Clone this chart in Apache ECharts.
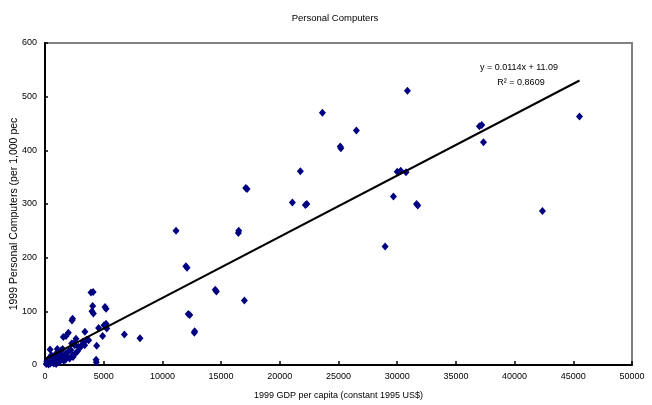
<!DOCTYPE html>
<html>
<head>
<meta charset="utf-8">
<script src="https://cdn.jsdelivr.net/npm/echarts@6/dist/echarts.min.js"></script>
<style>html,body{margin:0;padding:0;background:#fff}#c{width:652px;height:405px}</style>
</head>
<body>
<div id="c"></div>
<script>
// GDP per capita (constant 1995 US$) for each country
var gdpX = [
  30870, 23630, 26520, 37200, 37000, 45530, 37350, 21750, 30000, 30300, 30750, 17210, 17100,
  29680, 21070, 22180, 22300, 31750, 31650, 42370, 28970, 16470, 16500, 11160, 12100, 12000,
  25200, 25150, 14600, 14500, 16980, 12330, 12200, 12720, 12750,
  3920, 4100, 4060, 4000, 4120, 5110, 5200, 5200, 5030, 5260, 6760, 8090, 4570, 4910, 4400,
  4350, 4370, 2300, 2350, 3400, 3550, 3720, 1560, 1790, 1990, 2640, 2840, 2980, 3120, 3240,
  3380, 2360, 2560, 2270, 2410, 2530, 2750, 2390, 430,
  100, 200, 300, 350, 450, 500, 600, 700, 750, 800, 900, 1000, 1100, 1200, 1300, 1400, 1500,
  1600, 1700, 1800, 1900, 2000, 1200, 650, 900, 1100, 1350, 250, 400, 150, 550, 1500, 1750,
  2100, 2200, 950, 1050
];
// Personal computers per 1,000 people
var pcY = [
  511, 470, 437, 447, 445, 463, 415, 361, 360, 362, 359, 328, 330,
  314, 303, 298, 300, 297, 300, 287, 221, 246, 250, 250, 181, 184,
  404, 407, 137, 140, 120, 93, 95, 60, 63,
  135, 136, 110, 100, 96, 108, 105, 77, 74, 68, 57, 50, 69, 54, 36,
  10, 5, 83, 86, 62, 47, 46, 52, 54, 60, 49, 34, 32, 37, 44,
  37, 18, 21, 40, 40, 37, 25, 15, 29,
  2, 4, 1, 6, 3, 8, 5, 10, 3, 12, 7, 14, 9, 17, 11, 20, 13,
  8, 18, 22, 15, 25, 5, 15, 20, 24, 27, 10, 14, 7, 18, 30, 10,
  12, 28, 2, 30
];
// Trendline as printed on the chart
var trendSlope = [0.0114];
var trendIntercept = [11.09];
var xTicks = [0, 5000, 10000, 15000, 20000, 25000, 30000, 35000, 40000, 45000, 50000];
var yTicks = [0, 100, 200, 300, 400, 500, 600];

var pts = gdpX.map(function (x, i) { return [x, pcY[i]]; });
var xMin = 0, xMax = Math.max.apply(null, gdpX);
var trend = [
  [xMin, trendSlope[0] * xMin + trendIntercept[0]],
  [xMax, trendSlope[0] * xMax + trendIntercept[0]]
];
var FONT = '"Liberation Sans Narrow", "Arial Narrow", "Liberation Sans", Arial, sans-serif';
var FONT2 = '"Liberation Sans", Arial, sans-serif';

var chart = echarts.init(document.getElementById('c'), null, {renderer: 'canvas'});
chart.setOption({
  animation: false,
  backgroundColor: '#ffffff',
  title: {
    text: 'Personal Computers',
    left: 330, top: 8, textAlign: 'center',
    textStyle: {fontFamily: FONT, fontSize: 9.5, fontWeight: 'normal', color: '#000'}
  },
  grid: {
    left: 45, right: 20, top: 43, bottom: 38.5,
    show: true, borderColor: '#808080', borderWidth: 2, backgroundColor: '#fff'
  },
  xAxis: {
    type: 'value', min: xTicks[0], max: xTicks[xTicks.length - 1], interval: xTicks[1] - xTicks[0],
    name: '1999 GDP per capita (constant 1995 US$)', nameLocation: 'middle', nameGap: 26,
    nameTextStyle: {fontFamily: FONT, fontSize: 9, color: '#000'},
    axisLine: {lineStyle: {color: '#000', width: 2}},
    axisTick: {inside: true, length: 4, lineStyle: {color: '#000', width: 1.5}},
    axisLabel: {fontFamily: FONT, fontSize: 9, color: '#000', margin: 7,
      formatter: function (v) { return String(v); }},
    splitLine: {show: false}
  },
  yAxis: {
    type: 'value', min: yTicks[0], max: yTicks[yTicks.length - 1], interval: yTicks[1] - yTicks[0],
    axisLine: {lineStyle: {color: '#000', width: 2}},
    axisTick: {inside: true, length: 3, lineStyle: {color: '#000', width: 1.5}},
    axisLabel: {fontFamily: FONT, fontSize: 9, color: '#000', margin: 8,
      formatter: function (v) { return String(v); }},
    splitLine: {show: false}
  },
  graphic: [
    {
      type: 'text', x: 14, y: 214, rotation: Math.PI / 2,
      style: {text: '1999 Personal Computers (per 1,000 pec', fontFamily: FONT2, fontSize: 10.5,
        fill: '#000', textAlign: 'center', textVerticalAlign: 'middle'}
    },
    {
      type: 'text', x: 519, y: 68, z: 100,
      style: {text: 'y = 0.0114x + 11.09', fontFamily: FONT, fontSize: 9,
        fill: '#000', textAlign: 'center', textVerticalAlign: 'middle'}
    },
    {
      type: 'text', x: 521, y: 83, z: 100,
      style: {text: 'R² = 0.8609', fontFamily: FONT, fontSize: 9,
        fill: '#000', textAlign: 'center', textVerticalAlign: 'middle'}
    }
  ],
  series: [
    {
      type: 'scatter', data: pts, symbol: 'diamond', symbolSize: [7, 8],
      itemStyle: {color: '#000080', opacity: 1}, z: 3
    },
    {
      type: 'line', data: trend, symbol: 'none', z: 4,
      lineStyle: {color: '#000', width: 2}
    }
  ]
});
</script>
</body>
</html>
